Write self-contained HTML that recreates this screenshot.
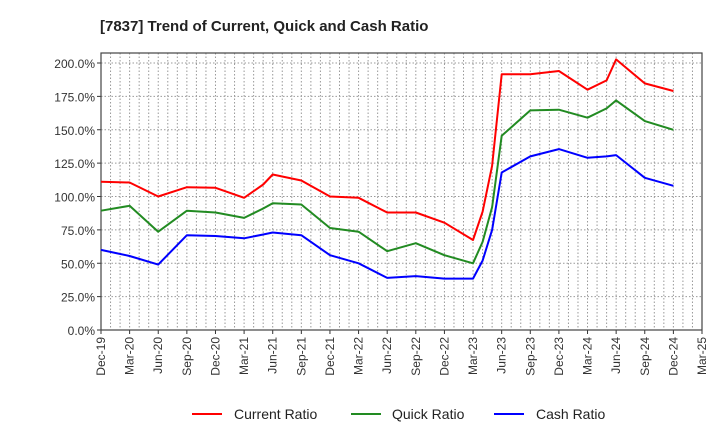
<!DOCTYPE html>
<html><head><meta charset="utf-8"><style>
html,body{margin:0;padding:0;background:#fff;}
svg{display:block;font-family:"Liberation Sans",Arial,sans-serif;}
</style></head><body>
<svg id="chart" width="720" height="440">
<text x="100" y="31" font-size="15" font-weight="bold" fill="#222">[7837]  Trend of Current, Quick and Cash Ratio</text>
<g id="grid"></g><g id="axes"></g><g id="series"></g>
<g id="legend">
<line x1="192" y1="414" x2="222" y2="414" stroke="#ff0000" stroke-width="2"/>
<text x="234" y="419" font-size="14" fill="#222">Current Ratio</text>
<line x1="351" y1="414" x2="381" y2="414" stroke="#228b22" stroke-width="2"/>
<text x="392" y="419" font-size="14" fill="#222">Quick Ratio</text>
<line x1="494" y1="414" x2="524" y2="414" stroke="#0000ff" stroke-width="2"/>
<text x="536" y="419" font-size="14" fill="#222">Cash Ratio</text>
</g>
</svg>
<script>
const monthIdx=[0,3,6,9,12,15,17,18,21,24,27,30,33,36,39,40,41,42,45,48,51,53,54,57,60];
const currentRatio=[111,110.5,100,107,106.5,99,109,116.5,112,100,99,88,88,80.4,67.4,88.6,123,191.5,191.5,194,180,187,202.7,184.7,179];
const quickRatio=[89.4,93,73.6,89.4,88,84,91,95,94,76.4,73.6,59,65,56,50,66,92,145.5,164.5,165,159,166,172,156.5,150];
const cashRatio=[60,55.4,49,71,70.4,68.7,71.5,73,71,56,50,39,40.4,38.5,38.5,52,75,118,130,135.5,129,130,131,114,108];
const xTickLabels=["Dec-19","Mar-20","Jun-20","Sep-20","Dec-20","Mar-21","Jun-21","Sep-21","Dec-21","Mar-22","Jun-22","Sep-22","Dec-22","Mar-23","Jun-23","Sep-23","Dec-23","Mar-24","Jun-24","Sep-24","Dec-24","Mar-25"];
const yTicks=[0,25,50,75,100,125,150,175,200];

const NS="http://www.w3.org/2000/svg";
const L=101,R=702,T=53,B=330,maxM=63;
const xS=m=>L+(R-L)*m/maxM;
const yS=v=>B-(B-63)*v/200;
function mk(tag,attrs,parent){const e=document.createElementNS(NS,tag);for(const k in attrs)e.setAttribute(k,attrs[k]);parent.appendChild(e);return e;}
const grid=document.getElementById('grid'),axes=document.getElementById('axes'),ser=document.getElementById('series');
for(let m=1;m<maxM;m++){
  const l=mk('line',{x1:xS(m),x2:xS(m),y1:T,y2:B,stroke:'#999','stroke-dasharray':'1.5,2','stroke-width':1},grid);
  
  
}
yTicks.forEach(v=>{
  const l=mk('line',{x1:L,x2:R,y1:yS(v),y2:yS(v),stroke:'#999','stroke-dasharray':'1.5,2','stroke-width':1},grid);
  
  
  const t=mk('text',{x:L-6,y:yS(v)+5,'text-anchor':'end','font-size':12,fill:'#333'},axes);
  t.textContent=v.toFixed(1)+'%';
  
  
  mk('line',{x1:L-4,x2:L,y1:yS(v),y2:yS(v),stroke:'#333'},axes);
});
xTickLabels.forEach((s,i)=>{
  const x=xS(i*3);
  mk('line',{x1:x,x2:x,y1:B,y2:B+4,stroke:'#333'},axes);
  const t=mk('text',{x:0,y:0,'text-anchor':'end','font-size':12,fill:'#333',transform:`translate(${x+4},${B+7}) rotate(-90)`},axes);
  t.textContent=s;
  
  
});
const frame=mk('rect',{x:L,y:T,width:R-L,height:B-T,fill:'none',stroke:'#444','stroke-width':1.2},axes);


[[currentRatio,'#ff0000','current-ratio-line'],[quickRatio,'#228b22','quick-ratio-line'],[cashRatio,'#0000ff','cash-ratio-line']].forEach(([arr,c,n])=>{
  const pts=arr.map((v,i)=>xS(monthIdx[i]).toFixed(1)+','+yS(v).toFixed(1)).join(' ');
  const p=mk('polyline',{points:pts,fill:'none',stroke:c,'stroke-width':2,'stroke-linejoin':'round'},ser);
  
  
});
</script>
</body></html>
